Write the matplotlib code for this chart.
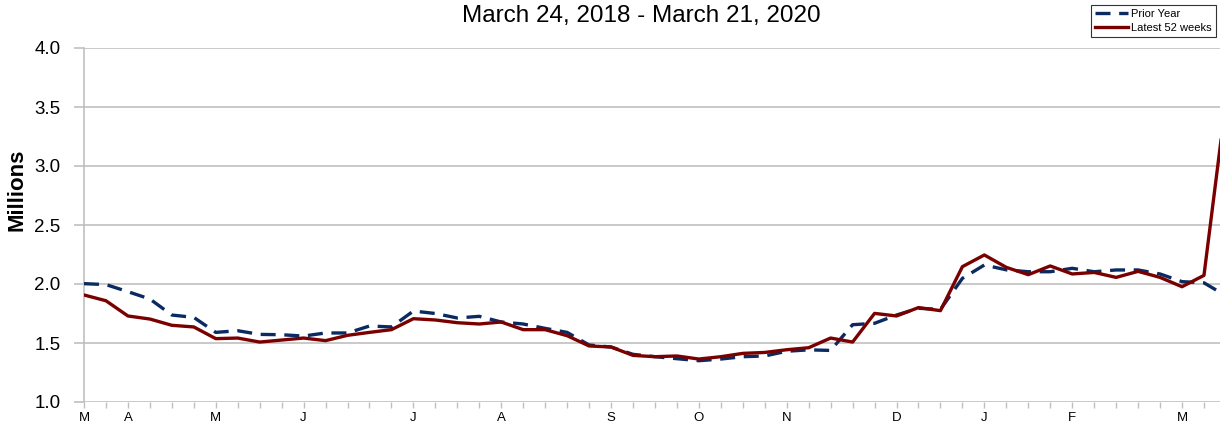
import matplotlib
matplotlib.use('Agg')
import matplotlib.pyplot as plt

plt.rcParams['font.family'] = ['Liberation Sans', 'DejaVu Sans']

# weekly values, millions (week index 0 = late March)
latest_52_weeks = [1.907, 1.858, 1.729, 1.703, 1.650, 1.636, 1.537, 1.542, 1.508, 1.525,
                   1.542, 1.520, 1.565, 1.590, 1.613, 1.706, 1.695, 1.672, 1.661, 1.678,
                   1.613, 1.613, 1.562, 1.475, 1.466, 1.395, 1.384, 1.390, 1.364, 1.384,
                   1.412, 1.420, 1.443, 1.460, 1.542, 1.508, 1.751, 1.729, 1.800, 1.774,
                   2.147, 2.246, 2.141, 2.079, 2.153, 2.085, 2.098, 2.056, 2.107, 2.056,
                   1.977, 2.073, 3.550]
prior_year = [2.003, 1.995, 1.935, 1.873, 1.737, 1.717, 1.590, 1.604, 1.573, 1.570,
              1.559, 1.585, 1.585, 1.644, 1.636, 1.771, 1.750, 1.712, 1.726, 1.678,
              1.661, 1.624, 1.590, 1.483, 1.466, 1.404, 1.384, 1.367, 1.350, 1.364,
              1.384, 1.390, 1.430, 1.442, 1.437, 1.655, 1.667, 1.737, 1.794, 1.785,
              2.048, 2.161, 2.120, 2.104, 2.104, 2.133, 2.104, 2.119, 2.119, 2.085,
              2.020, 2.010, 1.900]
month_labels = {0: 'M', 2: 'A', 6: 'M', 10: 'J', 15: 'J', 19: 'A', 24: 'S',
                28: 'O', 32: 'N', 37: 'D', 41: 'J', 45: 'F', 50: 'M'}
y_ticks = [1.0, 1.5, 2.0, 2.5, 3.0, 3.5, 4.0]

W, H = 1220, 426
fig = plt.figure(figsize=(W / 100, H / 100), dpi=100)
ax = fig.add_axes([84 / W, 24 / H, 1 - 84 / W, (402 - 48) / H])

weeks = list(range(len(latest_52_weeks)))
grid_col = '#c0c0c0'

ax.plot(weeks, prior_year, color='#0a2a62', linewidth=2.4, dashes=(4.5, 2.6),
        label='Prior Year', zorder=3)
ax.plot(weeks, latest_52_weeks, color='#7a0000', linewidth=2.4,
        label='Latest 52 weeks', zorder=4)

ax.set_xlim(0, (W - 84) / 21.96)
ax.set_ylim(1.0, 4.0)
ax.set_yticks(y_ticks)
ax.set_yticklabels(['%.1f' % v for v in y_ticks], fontsize=13.5)
ax.grid(axis='y', color=grid_col, linewidth=1.2)
ax.set_axisbelow(True)

ticks = list(range(52))
ax.set_xticks(ticks)
ax.set_xticklabels([month_labels.get(t, '') for t in ticks], fontsize=9.5)

for side in ['top', 'right', 'bottom']:
    ax.spines[side].set_visible(False)
ax.spines['left'].set_color(grid_col)
ax.spines['left'].set_linewidth(1.2)
ax.tick_params(axis='y', length=7, width=1.2, color=grid_col, pad=10)
ax.tick_params(axis='x', length=4, width=1.0, color=grid_col, pad=3)

ax.set_ylabel('Millions', fontsize=16, fontweight='bold')
ax.yaxis.set_label_coords(-0.05, 0.6)

fig.text(641 / W, 1 - 16 / H, 'March 24, 2018 - March 21, 2020', fontsize=17.5,
         ha='center', va='center')

leg = ax.legend(loc='upper right', bbox_to_anchor=(1216 / W, 1 - 5 / H),
                bbox_transform=fig.transFigure, fontsize=8, frameon=True,
                fancybox=False, borderpad=0.35, handlelength=3.0, handletextpad=0.3,
                labelspacing=0.35, borderaxespad=0)
leg.get_frame().set_edgecolor('black')
leg.get_frame().set_linewidth(0.8)

fig.savefig('out.png', dpi=100)
